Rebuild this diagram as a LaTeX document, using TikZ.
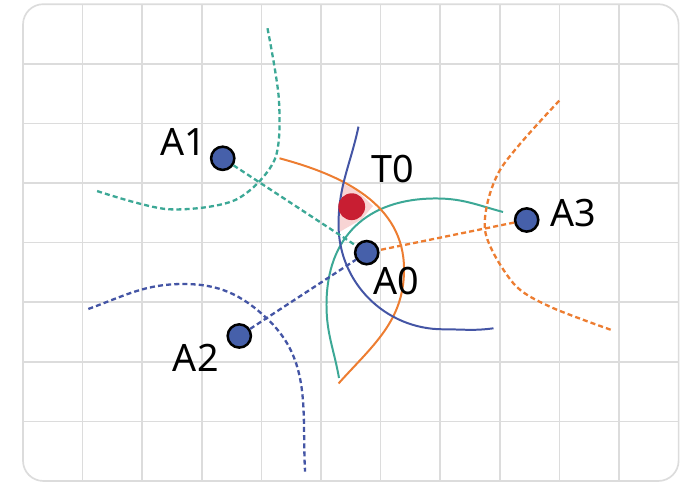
\documentclass[tikz,border=0pt]{standalone}
\usepackage{fontspec}
\setmainfont{Noto Sans}
\usetikzlibrary{positioning}
\definecolor{tealc}{RGB}{60,168,150}
\definecolor{bluec}{RGB}{68,85,165}
\definecolor{orangec}{RGB}{237,125,49}
\definecolor{anchorc}{RGB}{70,96,170}
\definecolor{tagc}{RGB}{200,30,50}
\definecolor{pinkc}{RGB}{248,212,212}
\definecolor{gridc}{RGB}{220,220,220}

\begin{document}
\begin{tikzpicture}[
  anchornode/.style={circle, draw=black, line width=1.2pt, fill=anchorc,
                     minimum size=0.39cm, inner sep=0pt},
  tagnode/.style={circle, fill=tagc, minimum size=0.45cm, inner sep=0pt},
  lbl/.style={font=\fontsize{18}{20}\selectfont, inner sep=0pt},
  branch/.style={line width=0.95pt},
  farbranch/.style={line width=1.1pt, dash pattern=on 2.4pt off 1.5pt},
  link/.style={line width=1.1pt, dash pattern=on 2.4pt off 1.5pt}
]
\useasboundingbox (-0.386,-0.017) rectangle (11.04,8.07);

% Background grid
\begin{scope}
  \clip[rounded corners=0.34cm] (0,0) rectangle (11,8);
  \fill[white] (0,0) rectangle (11,8);
  \draw[gridc, line width=0.7pt] (0,0) grid (11,8);
\end{scope}
\draw[gridc, line width=0.8pt, rounded corners=0.34cm] (0,0) rectangle (11,8);

% Overlap of the three branches
\fill[pinkc] (5.352,4.995) -- (5.604,4.874) -- (5.872,4.614) -- (5.688,4.396)
  -- (5.310,4.178) -- (5.310,4.564) -- cycle;

% Branches through the tag
\draw[branch, tealc] (5.302,1.728) to[out=100, in=-90] (5.092,2.953)
  to[out=90, in=180, looseness=1.15] (6.93,4.74) to[out=0, in=165] (8.054,4.513);
\draw[branch, orangec] (4.304,5.414) to[out=-15, in=90] (6.393,3.55)
  to[out=-90, in=48] (5.294,1.636);
\draw[branch, bluec] (5.629,5.945) to[out=-102, in=90] (5.294,4.30)
  to[out=-90, in=180] (7.05,2.545) to[out=0, in=188] (7.894,2.562);

% Branches near the other anchors
\draw[farbranch, tealc] plot[smooth] coordinates {(4.102,7.596) (4.294,6.393)
  (4.220,5.386) (3.562,4.715) (2.427,4.560) (1.237,4.866)};
\draw[farbranch, bluec] (1.096,2.886) to[out=20, in=180] (2.69,3.305)
  to[out=0, in=137] (4.089,2.73) to[out=-43, in=93] (4.732,0.156);
\draw[farbranch, orangec] plot[smooth] coordinates {(8.998,6.381) (8.003,5.218)
  (7.752,4.211) (8.227,3.317) (8.842,2.924) (9.904,2.522)};

% Tag and anchors
\node[tagnode] (t0) at (5.515,4.602) {};
\node[anchornode] (a0) at (5.767,3.831) {};
\node[anchornode] (a1) at (3.351,5.414) {};
\node[anchornode] (a2) at (3.629,2.433) {};
\node[anchornode] (a3) at (8.451,4.379) {};

% Links to the reference anchor
\draw[link, tealc] (a1) -- (a0);
\draw[link, bluec] (a2) -- (a0);
\draw[link, orangec] (a3) -- (a0);

% Labels
\node[lbl] (t0lbl) at (6.200,5.232) {T0};
\node[lbl] (a0lbl) at (6.270,3.359) {A0};
\node[lbl] (a1lbl) at (2.690,5.688) {A1};
\node[lbl] (a2lbl) at (2.899,2.059) {A2};
\node[lbl] (a3lbl) at (9.233,4.500) {A3};
\end{tikzpicture}
\end{document}
